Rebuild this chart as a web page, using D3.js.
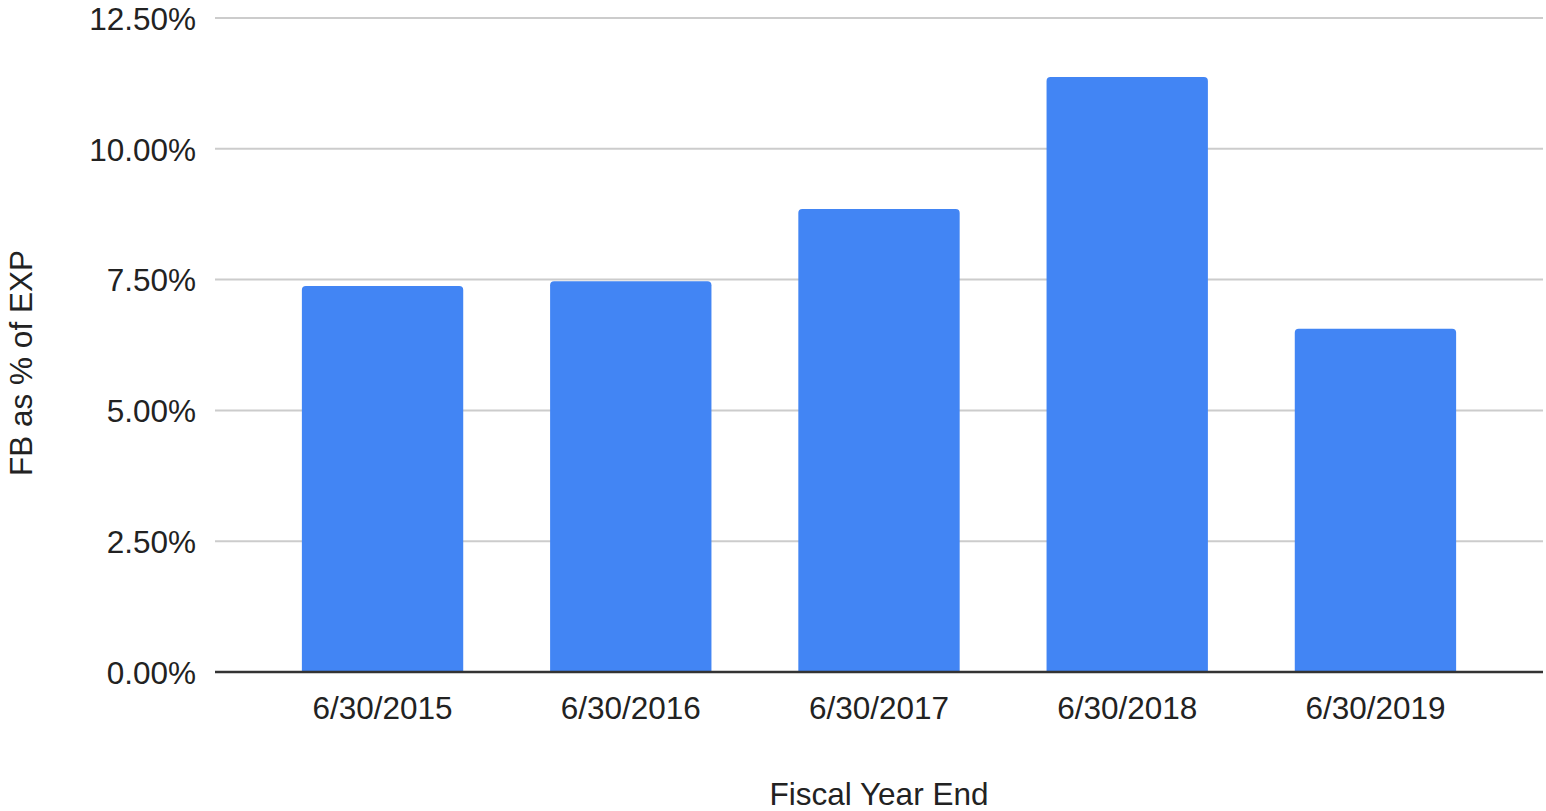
<!DOCTYPE html>
<html>
<head>
<meta charset="utf-8">
<script src="https://cdn.jsdelivr.net/npm/d3@7"></script>
<style>
  html, body { margin: 0; padding: 0; background: #fff; }
  svg { display: block; font-family: Arial, "Liberation Sans", sans-serif; }
</style>
</head>
<body>
<svg id="chart" width="1546" height="811"></svg>
<script>
// Fiscal year-end dates and fund balance as a share of expenditures (%)
const categories = ["6/30/2015", "6/30/2016", "6/30/2017", "6/30/2018", "6/30/2019"];
const fbPercent = [7.38, 7.47, 8.85, 11.37, 6.56];
const yTicks = [0, 2.5, 5, 7.5, 10, 12.5];

const svg = d3.select("#chart");
const plot = { left: 215, right: 1543, top: 18, bottom: 672 };

const x = d3.scaleBand()
  .domain(categories)
  .range([plot.left, plot.right])
  .paddingInner(0.35)
  .paddingOuter(0.35);

const y = d3.scaleLinear()
  .domain([0, 12.5])
  .range([plot.bottom, plot.top]);

// horizontal gridlines
svg.append("g")
  .selectAll("line")
  .data(yTicks.filter(t => t > 0))
  .join("line")
  .attr("x1", plot.left)
  .attr("x2", plot.right)
  .attr("y1", d => y(d))
  .attr("y2", d => y(d))
  .attr("stroke", "#cccccc")
  .attr("stroke-width", 2);

// y tick labels
const yAxis = d3.axisLeft(y)
  .tickValues(yTicks)
  .tickFormat(d => d3.format(".2f")(d) + "%")
  .tickSize(0)
  .tickPadding(19);

svg.append("g")
  .attr("transform", `translate(${plot.left},0)`)
  .call(yAxis)
  .call(g => g.select(".domain").remove())
  .call(g => g.selectAll("text")
    .attr("font-size", 31.5)
    .attr("font-family", "Arial, 'Liberation Sans', sans-serif")
    .attr("fill", "#222")
    .attr("dy", "0.36em"));

// bars with slightly rounded top corners
const r = 4;
function barPath(x0, w, yTop, yBase) {
  const rr = Math.min(r, (yBase - yTop) / 2, w / 2);
  return `M${x0},${yBase}V${yTop + rr}Q${x0},${yTop} ${x0 + rr},${yTop}` +
         `H${x0 + w - rr}Q${x0 + w},${yTop} ${x0 + w},${yTop + rr}V${yBase}Z`;
}

svg.append("g")
  .selectAll("path")
  .data(categories.map((c, i) => ({ c, v: fbPercent[i] })))
  .join("path")
  .attr("d", d => barPath(x(d.c), x.bandwidth(), y(d.v), y(0)))
  .attr("fill", "#4285f4");

// baseline
svg.append("line")
  .attr("x1", plot.left)
  .attr("x2", plot.right)
  .attr("y1", y(0))
  .attr("y2", y(0))
  .attr("stroke", "#333")
  .attr("stroke-width", 2.5);

// x tick labels
const xAxis = d3.axisBottom(x).tickSize(0).tickPadding(25);
svg.append("g")
  .attr("transform", `translate(0,${plot.bottom})`)
  .call(xAxis)
  .call(g => g.select(".domain").remove())
  .call(g => g.selectAll("text")
    .attr("font-size", 31.5)
    .attr("font-family", "Arial, 'Liberation Sans', sans-serif")
    .attr("fill", "#222"));

// axis titles
svg.append("text")
  .attr("x", 879)
  .attr("y", 805)
  .attr("text-anchor", "middle")
  .attr("font-size", 31.5)
  .attr("fill", "#222")
  .text("Fiscal Year End");

svg.append("text")
  .attr("transform", "translate(32,363) rotate(-90)")
  .attr("text-anchor", "middle")
  .attr("font-size", 31.5)
  .attr("fill", "#222")
  .text("FB as % of EXP");
</script>
</body>
</html>
